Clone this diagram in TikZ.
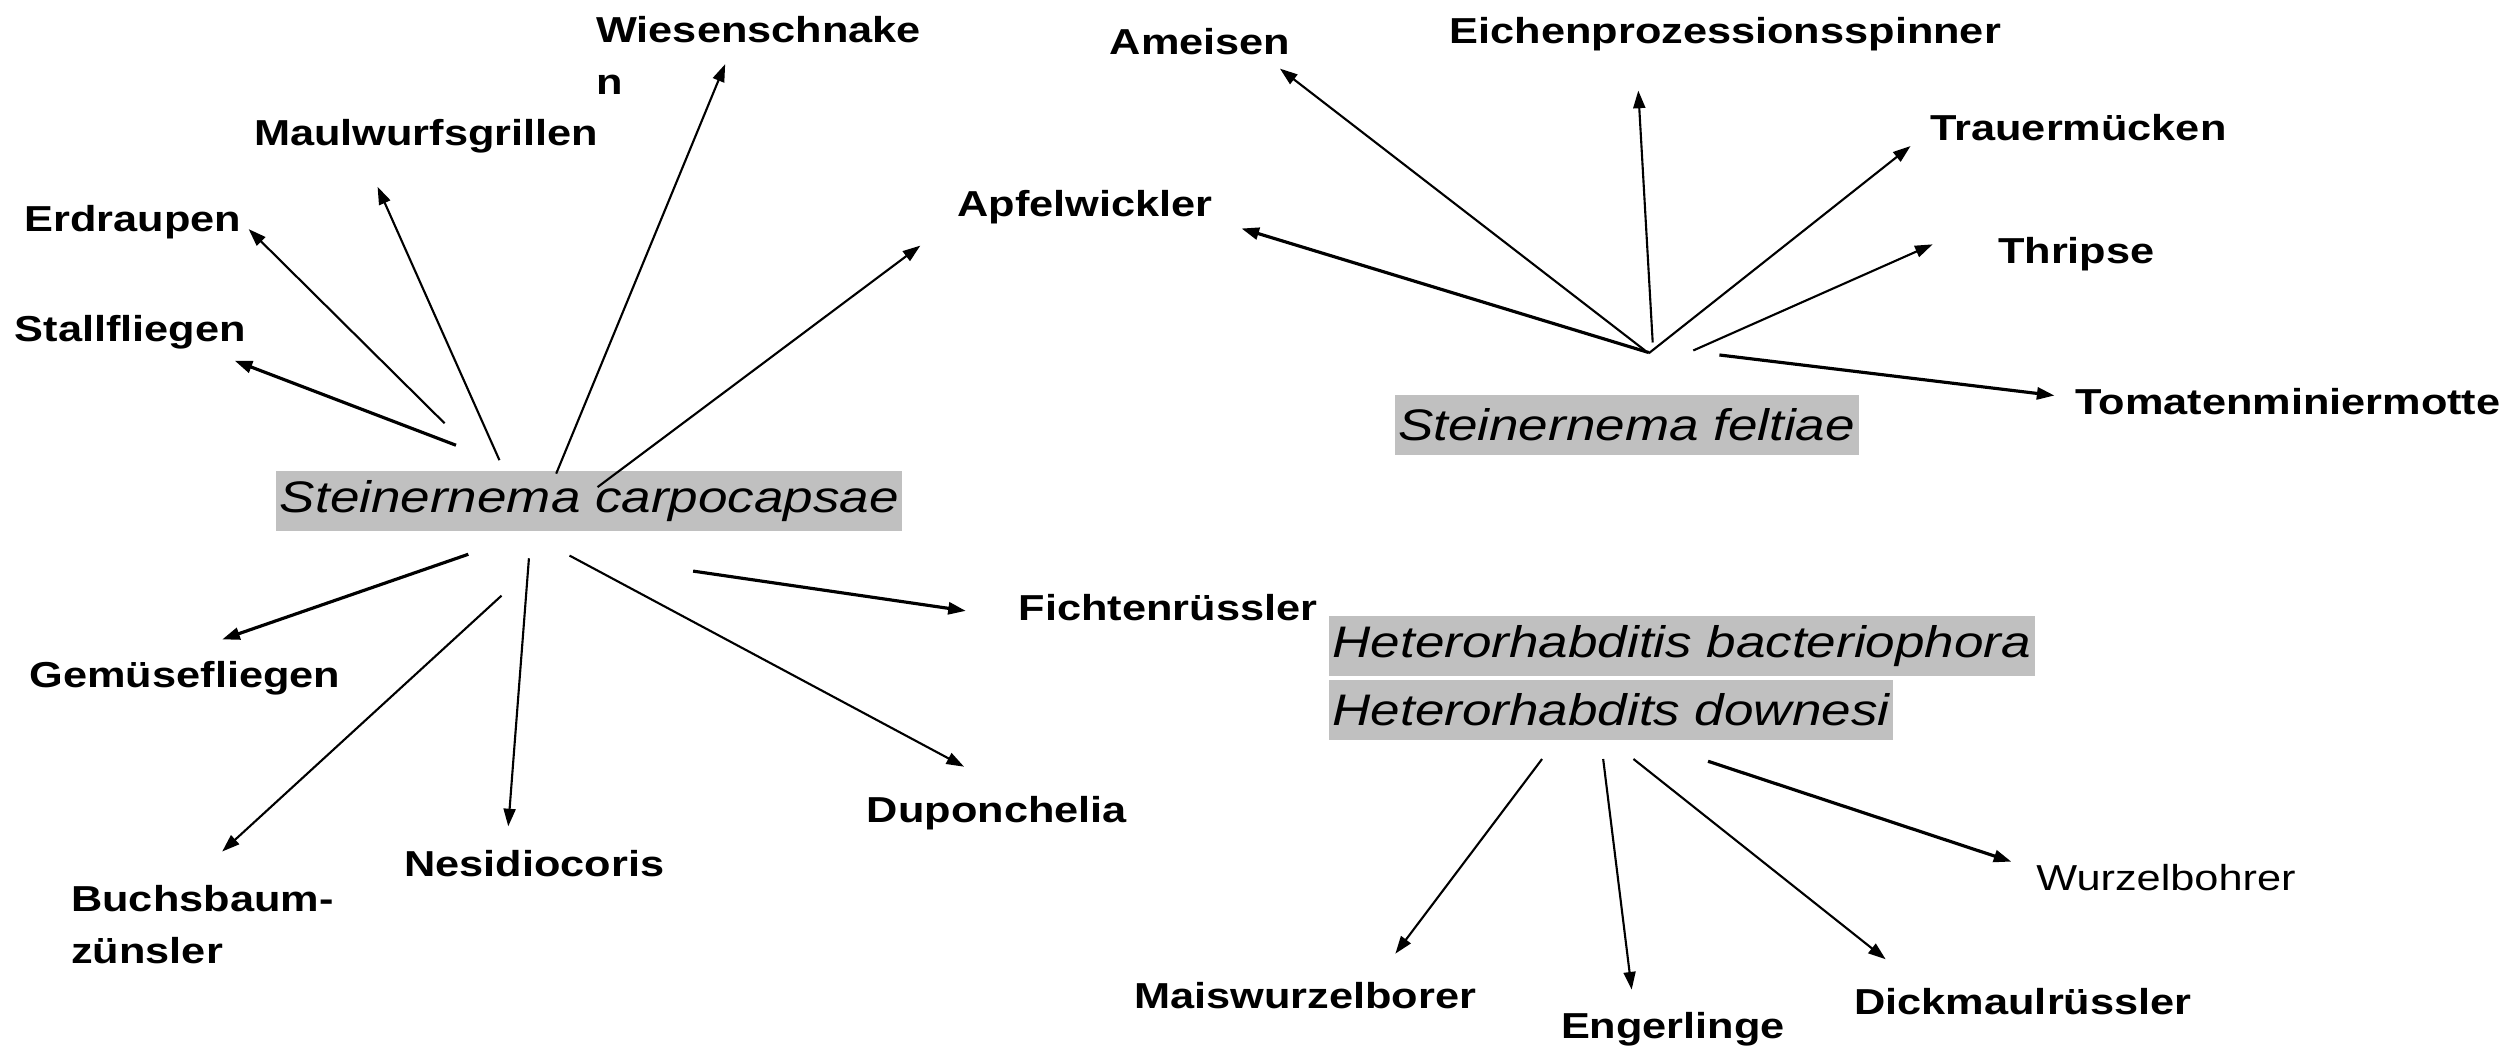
\documentclass[tikz,border=0pt]{standalone}
\usepackage{fontspec}
\setmainfont{Liberation Sans}[FakeStretch=1.2]
\definecolor{silver}{RGB}{192,192,192}
\usepackage{tikz}
\usetikzlibrary{arrows.meta}

\begin{document}
\begin{tikzpicture}[
    x=0.016cm, y=-0.016cm,
    pest/.style={inner sep=0pt, anchor=base west,
      font=\fontsize{10.25}{14.6}\selectfont\bfseries},
    pest2/.style={pest, anchor=west, align=left},
    worm/.style={fill=silver, inner xsep=1pt, inner ysep=0pt, anchor=west,
      minimum height=16.9pt, font=\fontsize{12.55}{14}\selectfont\itshape},
    link/.style={-{Triangle[length=5pt,width=3.4pt]}, line width=0.6pt},
    boldlink/.style={link, line width=0.9pt},
  ]
    \useasboundingbox (0,0) rectangle (1568,660);

    % species
    \node[worm] (carpo) at (172,312.5) {Steinernema carpocapsae};
    \node[worm] (feltiae) at (869.4,265) {Steinernema feltiae};
    \node[worm] (hbact) at (828.5,402.8) {Heterorhabditis bacteriophora};
    \node[worm] (hdown) at (828.5,442.7) {Heterorhabdits downesi};

    % pests of S. carpocapsae
    \node[pest] (stall) at (8.8,213) {Stallfliegen};
    \node[pest] (erd) at (15,144.3) {Erdraupen};
    \node[pest] (maul) at (158,90.6) {Maulwurfsgrillen};
    \node[pest2] (wiese) at (371.5,34.5) {Wiesenschnake\\n};
    \node[pest] (apfel) at (596.7,135) {Apfelwickler};
    \node[pest] (gemuese) at (18.1,428.6) {Gemüsefliegen};
    \node[pest2] (buchs) at (44,576.7) {Buchsbaum-\\zünsler};
    \node[pest] (nesi) at (251.8,546.9) {Nesidiocoris};
    \node[pest] (dupon) at (540.3,513.3) {Duponchelia};
    \node[pest] (fichte) at (635,387.3) {Fichtenrüssler};

    % pests of S. feltiae
    \node[pest] (ameisen) at (691.8,33.7) {Ameisen};
    \node[pest] (eichen) at (903.8,27) {Eichenprozessionsspinner};
    \node[pest] (trauer) at (1203.6,87.5) {Trauermücken};
    \node[pest] (thrips) at (1245.8,164.5) {Thripse};
    \node[pest] (tomate) at (1294,258.3) {Tomatenminiermotte};

    % pests of Heterorhabditis
    \node[pest] (mais) at (707,628.8) {Maiswurzelborer};
    \node[pest] (enger) at (973.2,647.7) {Engerlinge};
    \node[pest] (dick) at (1156.2,633) {Dickmaulrüssler};
    \node[pest, font=\fontsize{10.25}{14.6}\selectfont] (wurzel) at (1269.7,555.7) {Wurzelbohrer};

    % arrow ends
    \coordinate (c-stall) at (284.4,277.7);   \coordinate (to-stall) at (146.4,225);
    \coordinate (c-erd) at (277.3,264);       \coordinate (to-erd) at (155.1,142.9);
    \coordinate (c-maul) at (311.5,287);      \coordinate (to-maul) at (235.5,116.5);
    \coordinate (c-wiese) at (346.9,295.4);   \coordinate (to-wiese) at (452.3,40);
    \coordinate (c-apfel) at (372.7,303.8);   \coordinate (to-apfel) at (574,153.2);
    \coordinate (c-gemuese) at (292.1,345.7); \coordinate (to-gemuese) at (138.6,398.8);
    \coordinate (c-buchs) at (312.8,371.5);   \coordinate (to-buchs) at (138.6,531.1);
    \coordinate (c-nesi) at (329.9,348.2);    \coordinate (to-nesi) at (317,515.4);
    \coordinate (c-dupon) at (355.2,346.5);   \coordinate (to-dupon) at (601.3,478.2);
    \coordinate (c-fichte) at (432.3,356.2);  \coordinate (to-fichte) at (602.4,381);

    \coordinate (f-apfel) at (1028.4,219.9);  \coordinate (to-apfel2) at (774.3,142.5);
    \coordinate (f-ameisen) at (1026,218.6);  \coordinate (to-ameisen) at (798.3,42.8);
    \coordinate (f-eichen) at (1030.8,213.6); \coordinate (to-eichen) at (1021.8,56.5);
    \coordinate (f-trauer) at (1028.4,220.3); \coordinate (to-trauer) at (1191.6,91.1);
    \coordinate (f-thrips) at (1056.1,218.6); \coordinate (to-thrips) at (1205.4,152.4);
    \coordinate (f-tomate) at (1072.4,221.4); \coordinate (to-tomate) at (1281.4,246.7);

    \coordinate (h-mais) at (961.8,473.4);    \coordinate (to-mais) at (870.3,594.8);
    \coordinate (h-enger) at (999.9,473.4);   \coordinate (to-enger) at (1017.7,617.2);
    \coordinate (h-dick) at (1018.8,473.4);   \coordinate (to-dick) at (1176.1,598.3);
    \coordinate (h-wurzel) at (1065.3,474.8); \coordinate (to-wurzel) at (1254.5,537.4);

    % arrows
    \draw[boldlink] (c-stall) -- (to-stall);
    \draw[link] (c-erd) -- (to-erd);
    \draw[link] (c-maul) -- (to-maul);
    \draw[link] (c-wiese) -- (to-wiese);
    \draw[link] (c-apfel) -- (to-apfel);
    \draw[boldlink] (c-gemuese) -- (to-gemuese);
    \draw[link] (c-buchs) -- (to-buchs);
    \draw[link] (c-nesi) -- (to-nesi);
    \draw[link] (c-dupon) -- (to-dupon);
    \draw[boldlink] (c-fichte) -- (to-fichte);

    \draw[boldlink] (f-apfel) -- (to-apfel2);
    \draw[link] (f-ameisen) -- (to-ameisen);
    \draw[link] (f-eichen) -- (to-eichen);
    \draw[link] (f-trauer) -- (to-trauer);
    \draw[link] (f-thrips) -- (to-thrips);
    \draw[boldlink] (f-tomate) -- (to-tomate);

    \draw[link] (h-mais) -- (to-mais);
    \draw[link] (h-enger) -- (to-enger);
    \draw[link] (h-dick) -- (to-dick);
    \draw[boldlink] (h-wurzel) -- (to-wurzel);
  \end{tikzpicture}
\end{document}
